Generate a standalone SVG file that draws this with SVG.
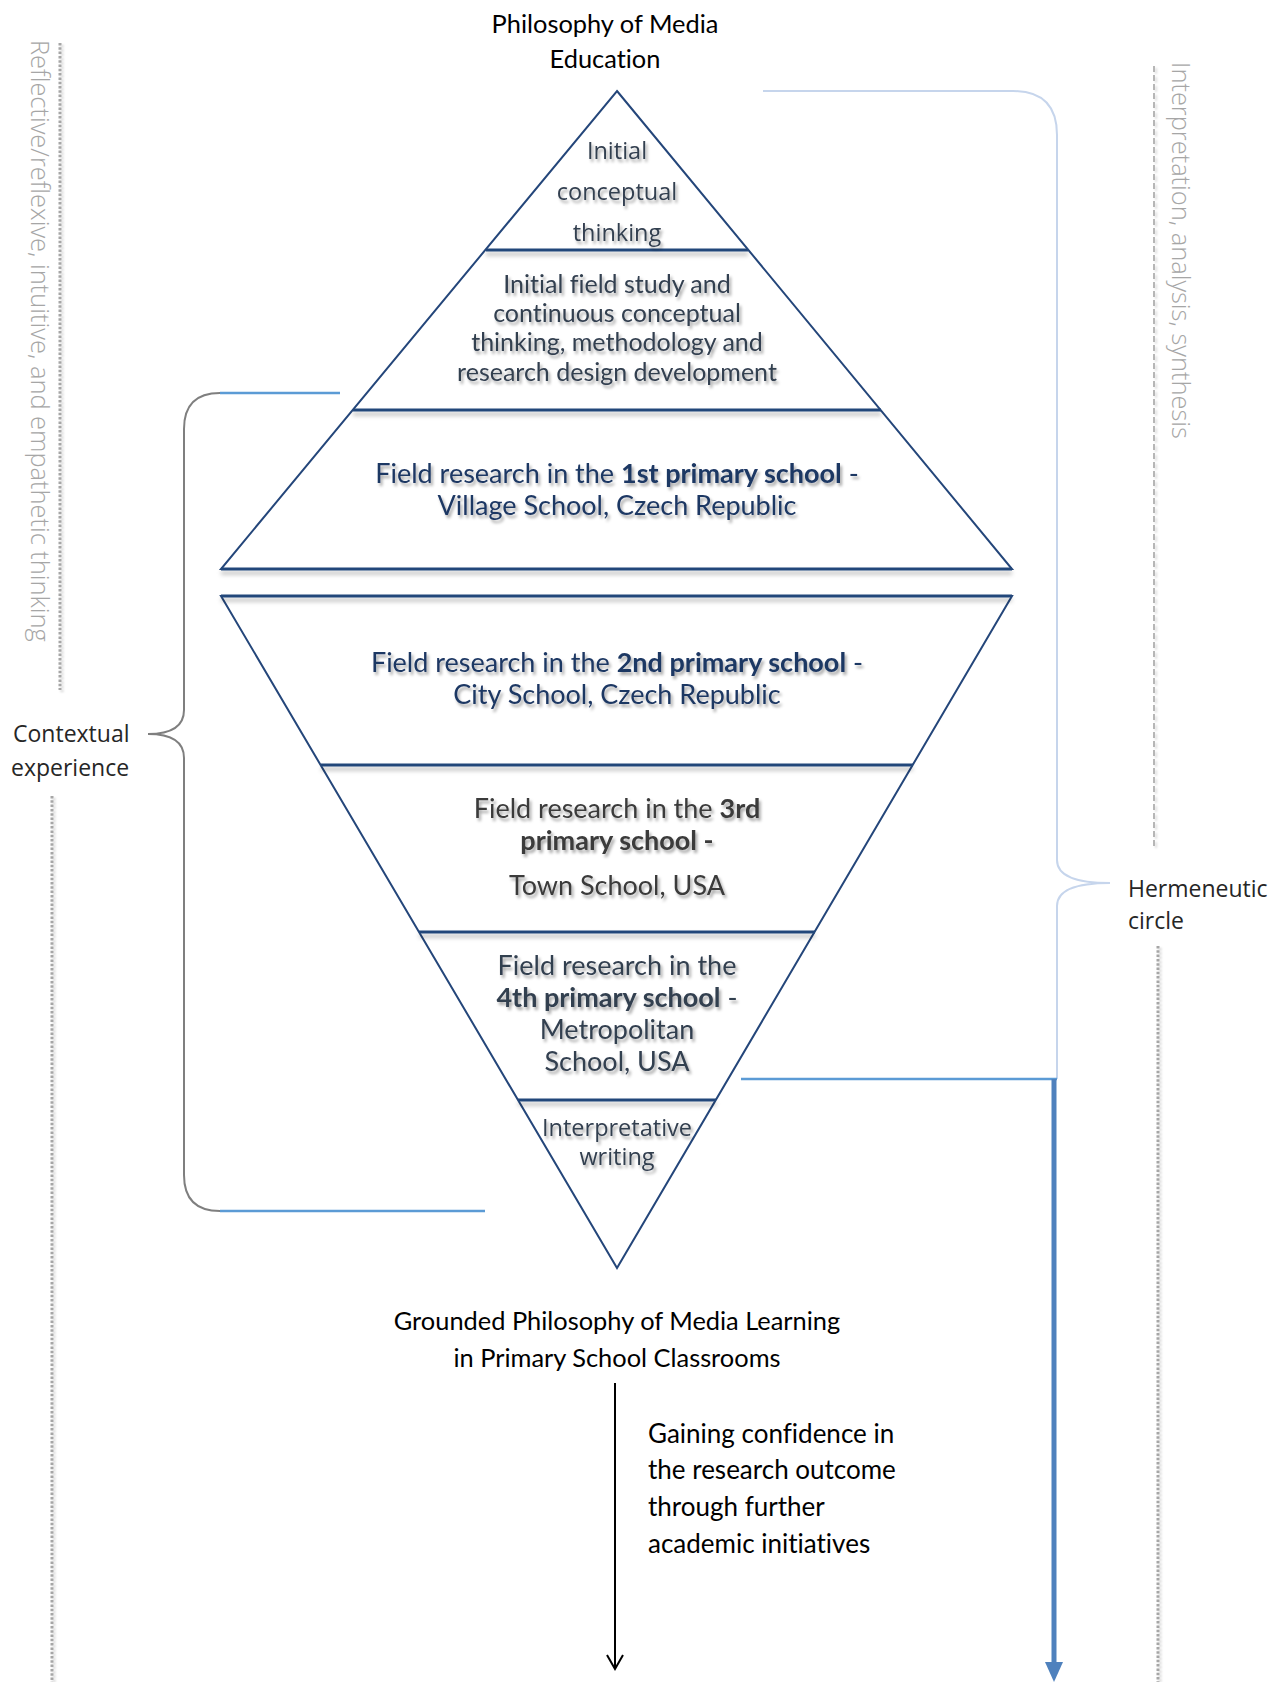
<svg xmlns="http://www.w3.org/2000/svg" width="1287" height="1682" viewBox="0 0 1287 1682">
  <defs>
    <filter id="txtShadow" x="-10%" y="-30%" width="120%" height="170%">
      <feDropShadow dx="2" dy="3" stdDeviation="1.8" flood-color="#000" flood-opacity="0.35"/>
    </filter>
    <filter id="lineShadow" filterUnits="userSpaceOnUse" x="0" y="0" width="1287" height="1682">
      <feDropShadow dx="0" dy="4" stdDeviation="2" flood-color="#000" flood-opacity="0.28"/>
    </filter>
    <filter id="softShadow" filterUnits="userSpaceOnUse" x="0" y="0" width="1287" height="1682">
      <feDropShadow dx="2" dy="2" stdDeviation="1.2" flood-color="#000" flood-opacity="0.18"/>
    </filter>
    <marker id="openHead" viewBox="0 0 20 20" refX="18" refY="10" markerWidth="20" markerHeight="20" markerUnits="userSpaceOnUse" orient="auto">
      <path d="M4,2 L18,10 L4,18" fill="none" stroke="#000" stroke-width="2"/>
    </marker>
  </defs>
  <style>
    text { font-variant-ligatures: none; font-feature-settings: "liga" 0, "dlig" 0; }
    .cal { font-family: Lato, "Liberation Sans", sans-serif; }
    .seg { font-family: "Open Sans", "DejaVu Sans", sans-serif; }
    .title { font-size: 25.4px; fill: #000; text-anchor: middle; }
    .tri { text-anchor: middle; filter: url(#txtShadow); }
    .navy { fill: #1f3864; }
    .slate { fill: #333f50; }
    .grey { fill: #3a3a3a; }
    .side { font-size: 23px; fill: #262626; }
    .vert { font-size: 25.4px; font-weight: 300; fill: #a6a6a6; }
    .outline { fill: none; stroke: #24467a; stroke-width: 2; stroke-linejoin: miter; }
    .divider { stroke: #24467a; stroke-width: 3; filter: url(#lineShadow); }
    .dots { fill: none; stroke: #a6a6a6; stroke-width: 3; stroke-dasharray: 2.5 1.8; filter: url(#softShadow); }
    .dash { fill: none; stroke: #a0a0a0; stroke-width: 1.5; stroke-dasharray: 6 3; filter: url(#softShadow); }
    .blue { fill: none; stroke: #5b9bd5; stroke-width: 2.5; }
  </style>

  <!-- Headline above the pyramid -->
  <g id="title-top">
    <text class="cal title" x="605" y="33">Philosophy of Media</text>
    <text class="cal title" x="605" y="68">Education</text>
  </g>

  <!-- Upright pyramid -->
  <g id="pyramid-up">
    <polygon class="outline" points="617,91 1012,569 221,569"/>
    <line class="divider" x1="486" y1="250" x2="748" y2="250"/>
    <line class="divider" x1="353" y1="410" x2="881" y2="410"/>
    <line class="divider" x1="221" y1="569" x2="1012" y2="569"/>
  </g>

  <g id="stage-initial-thinking">
    <text class="seg tri slate" font-size="23.5" x="617" y="159">Initial</text>
    <text class="seg tri slate" font-size="23.5" x="617" y="200">conceptual</text>
    <text class="seg tri slate" font-size="23.5" x="617" y="241">thinking</text>
  </g>

  <g id="stage-field-study">
    <text class="cal tri slate" font-size="25" x="617" y="293">Initial field study and</text>
    <text class="cal tri slate" font-size="25" x="617" y="322">continuous conceptual</text>
    <text class="cal tri slate" font-size="25" x="617" y="351">thinking, methodology and</text>
    <text class="cal tri slate" font-size="25" x="617" y="381">research design development</text>
  </g>

  <g id="stage-school-1">
    <text class="cal tri navy" font-size="27" x="617" y="483">Field research in the <tspan font-weight="bold">1st primary school</tspan> -</text>
    <text class="cal tri navy" font-size="27" x="617" y="515">Village School, Czech Republic</text>
  </g>

  <!-- Inverted pyramid -->
  <g id="pyramid-down">
    <polygon class="outline" points="221,596 1012,596 617,1268"/>
    <line class="divider" x1="221" y1="596" x2="1012" y2="596"/>
    <line class="divider" x1="321" y1="765" x2="913" y2="765"/>
    <line class="divider" x1="419" y1="932" x2="815" y2="932"/>
    <line class="divider" x1="518" y1="1100" x2="716" y2="1100"/>
  </g>

  <g id="stage-school-2">
    <text class="cal tri navy" font-size="27" x="617" y="672">Field research in the <tspan font-weight="bold">2nd primary school</tspan> -</text>
    <text class="cal tri navy" font-size="27" x="617" y="704">City School, Czech Republic</text>
  </g>

  <g id="stage-school-3">
    <text class="cal tri grey" font-size="27" x="617" y="818">Field research in the <tspan font-weight="bold">3rd</tspan></text>
    <text class="cal tri grey" font-size="27" x="617" y="850"><tspan font-weight="bold">primary school -</tspan></text>
    <text class="cal tri grey" font-size="27" x="617" y="895">Town School, USA</text>
  </g>

  <g id="stage-school-4">
    <text class="cal tri slate" font-size="27" x="617" y="975">Field research in the</text>
    <text class="cal tri slate" font-size="27" x="617" y="1007"><tspan font-weight="bold">4th primary school</tspan> -</text>
    <text class="cal tri slate" font-size="27" x="617" y="1039">Metropolitan</text>
    <text class="cal tri slate" font-size="27" x="617" y="1071">School, USA</text>
  </g>

  <g id="stage-writing">
    <text class="seg tri slate" font-size="23.5" x="617" y="1136">Interpretative</text>
    <text class="seg tri slate" font-size="23.5" x="617" y="1165">writing</text>
  </g>

  <!-- Outcome -->
  <g id="outcome">
    <text class="cal title" x="617" y="1330">Grounded Philosophy of Media Learning</text>
    <text class="cal title" x="617" y="1367">in Primary School Classrooms</text>
  </g>

  <g id="confidence-note">
    <text class="cal" font-size="26" fill="#000" x="648" y="1443">Gaining confidence in</text>
    <text class="cal" font-size="26" fill="#000" x="648" y="1479">the research outcome</text>
    <text class="cal" font-size="26" fill="#000" x="648" y="1516">through further</text>
    <text class="cal" font-size="26" fill="#000" x="648" y="1553">academic initiatives</text>
  </g>

  <!-- Side labels -->
  <g id="label-contextual">
    <text class="seg side" x="13" y="742">Contextual</text>
    <text class="seg side" x="11" y="776">experience</text>
  </g>

  <g id="label-hermeneutic">
    <text class="seg side" x="1128" y="897">Hermeneutic</text>
    <text class="seg side" x="1128" y="929">circle</text>
  </g>

  <g id="label-reflective">
    <text class="seg vert" transform="translate(31,40) rotate(90)">Reflective/reflexive, intuitive, and empathetic thinking</text>
  </g>

  <g id="label-interpretation">
    <text class="seg vert" transform="translate(1172,62) rotate(90)">Interpretation, analysis, synthesis</text>
  </g>

  <!-- Brackets, guide lines and arrows -->
  <g id="connectors">
    <!-- dotted guides on the margins -->
    <line class="dots" x1="60" y1="43" x2="60" y2="690"/>
    <line class="dots" x1="52" y1="796" x2="52" y2="1682"/>
    <line class="dash" x1="1154" y1="66" x2="1154" y2="847"/>
    <line class="dots" x1="1158" y1="946" x2="1158" y2="1682"/>

    <!-- contextual experience brace -->
    <path d="M220,393 Q184,393 184,429 L184,710 Q184,734 148,734 Q184,734 184,758 L184,1175 Q184,1211 220,1211" fill="none" stroke="#7f7f7f" stroke-width="2"/>
    <line class="blue" x1="220" y1="393" x2="340" y2="393"/>
    <line class="blue" x1="220" y1="1211" x2="485" y2="1211"/>

    <!-- hermeneutic circle brace -->
    <path d="M763,91 L1013,91 Q1057,91 1057,135 L1057,860 Q1057,883 1110,883 Q1057,883 1057,906 L1057,1079" fill="none" stroke="#c6d5ec" stroke-width="2"/>
    <line class="blue" x1="741" y1="1079" x2="1057" y2="1079"/>
    <line x1="1054" y1="1079" x2="1054" y2="1664" stroke="#4f81bd" stroke-width="5"/>
    <polygon points="1045,1662 1063,1662 1054,1682" fill="#4f81bd"/>

    <!-- outcome arrow -->
    <line x1="615" y1="1383" x2="615" y2="1669" stroke="#000" stroke-width="2" marker-end="url(#openHead)"/>
  </g>
</svg>
